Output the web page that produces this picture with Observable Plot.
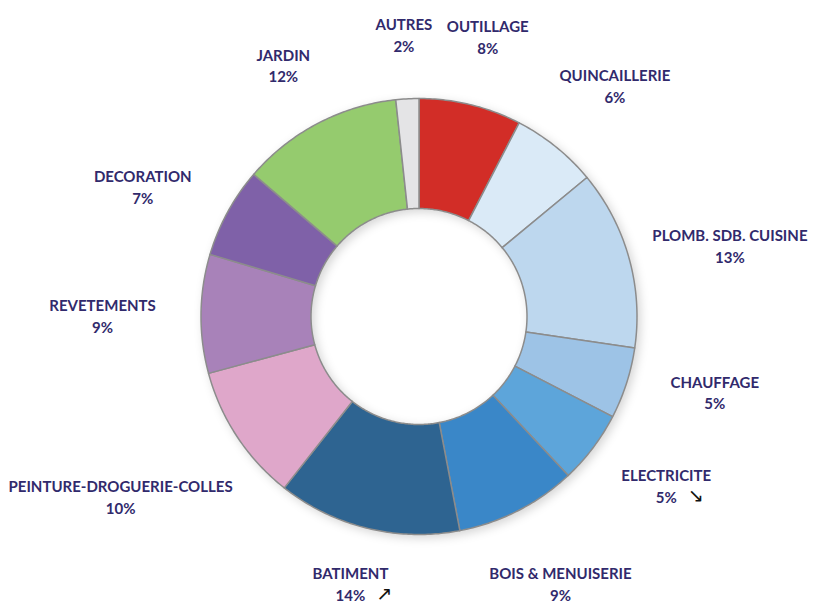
<!DOCTYPE html>
<html><head><meta charset="utf-8">
<script src="https://cdn.jsdelivr.net/npm/d3@7"></script>
<script src="https://cdn.jsdelivr.net/npm/@observablehq/plot@0.6"></script>
<style>body{margin:0;background:#fff} #chart{width:813px;height:607px}</style>
</head><body><div id="chart"></div>
<script>
const categories = ["OUTILLAGE","QUINCAILLERIE","PLOMB. SDB. CUISINE","CHAUFFAGE","ELECTRICITE","BOIS & MENUISERIE","BATIMENT","PEINTURE-DROGUERIE-COLLES","REVETEMENTS","DECORATION","JARDIN","AUTRES"];
const shares = [7.6, 6.4, 13.3, 5.3, 5.4, 9.0, 13.6, 10.2, 8.8, 6.7, 12.0, 1.7];
const colors = ["#d22d27","#daeaf7","#bdd7ee","#9dc3e6","#5da5da","#3a87c8","#2e6491","#dfa7ca","#a882b9","#7f61a8","#95cb6e","#e4e4e6"];
const arrows = ["","","","","\u2198","","\u2197","","","","",""];

const W = 813, H = 607, CX = 418.5, CY = 316, R = 218, R0 = 108, GAP = 45;
const FS = 15, LH = 1.45;
const canvas = document.createElement("canvas").getContext("2d");
canvas.font = `bold ${FS}px Lato`;
const tw = s => canvas.measureText(s).width;

const arcs = d3.pie().sort(null).value(d => d)(shares);
const slices = [];
const labels = [];
const arrowPts = [];
arcs.forEach((p, i) => {
  const n = Math.max(8, Math.ceil((p.endAngle - p.startAngle) * 80));
  const pts = [];
  for (let k = 0; k <= n; k++) { const a = p.startAngle + (p.endAngle - p.startAngle) * k / n; pts.push([R * Math.sin(a), R * Math.cos(a)]); }
  for (let k = n; k >= 0; k--) { const a = p.startAngle + (p.endAngle - p.startAngle) * k / n; pts.push([R0 * Math.sin(a), R0 * Math.cos(a)]); }
  pts.push(pts[0]);
  pts.forEach(([x, y]) => slices.push({cat: categories[i], x, y, color: colors[i]}));
  const m = (p.startAngle + p.endAngle) / 2;
  const ux = Math.sin(m), uy = Math.cos(m);
  const pct = Math.round(shares[i]) + "%";
  const w = Math.max(tw(categories[i]), tw(pct)), h = FS * (1 + LH);
  const r = R + GAP + Math.abs(ux) * w / 2 + Math.abs(uy) * h / 2;
  // flatten label ring towards the horizontal, keep inside the frame
  const lx = Math.max(-CX + w / 2 + 8, Math.min(W - CX - w / 2 - 6, r * ux));
  const fy = r * Math.sign(uy) * Math.pow(Math.abs(uy), 1.2);
  const ly = Math.max(CY - (H - h / 2 - 6), Math.min(CY - (h / 2 + 8), fy));
  labels.push({x: lx, y: ly, text: categories[i] + "\n" + pct});
  if (arrows[i]) arrowPts.push({x: lx + tw(pct) / 2 + 19, y: ly - FS * LH / 2, text: arrows[i]});
});

const chart = Plot.plot({
  width: W, height: H, margin: 0,
  x: {domain: [-CX, W - CX], axis: null},
  y: {domain: [CY - H, CY], axis: null},
  color: {type: "identity"},
  marks: [
    Plot.line(slices, {x: "x", y: "y", z: "cat", fill: "color", stroke: "#8c8c8c", strokeWidth: 1.5, strokeLinejoin: "round", curve: "linear"}),
    Plot.text(labels, {x: "x", y: "y", text: "text", lineAnchor: "middle", lineHeight: LH, fontFamily: "Lato", fontWeight: "bold", fontSize: FS, fill: "#312a6c"}),
    Plot.text(arrowPts, {x: "x", y: "y", text: "text", fontFamily: "DejaVu Sans", fontSize: 19, fill: "#111"})
  ]
});
const g = chart.querySelector('g[aria-label="line"]');
if (g) g.style.filter = "drop-shadow(3px 3px 5px rgba(0,0,0,0.16))";
document.getElementById("chart").appendChild(chart);
</script></body></html>
